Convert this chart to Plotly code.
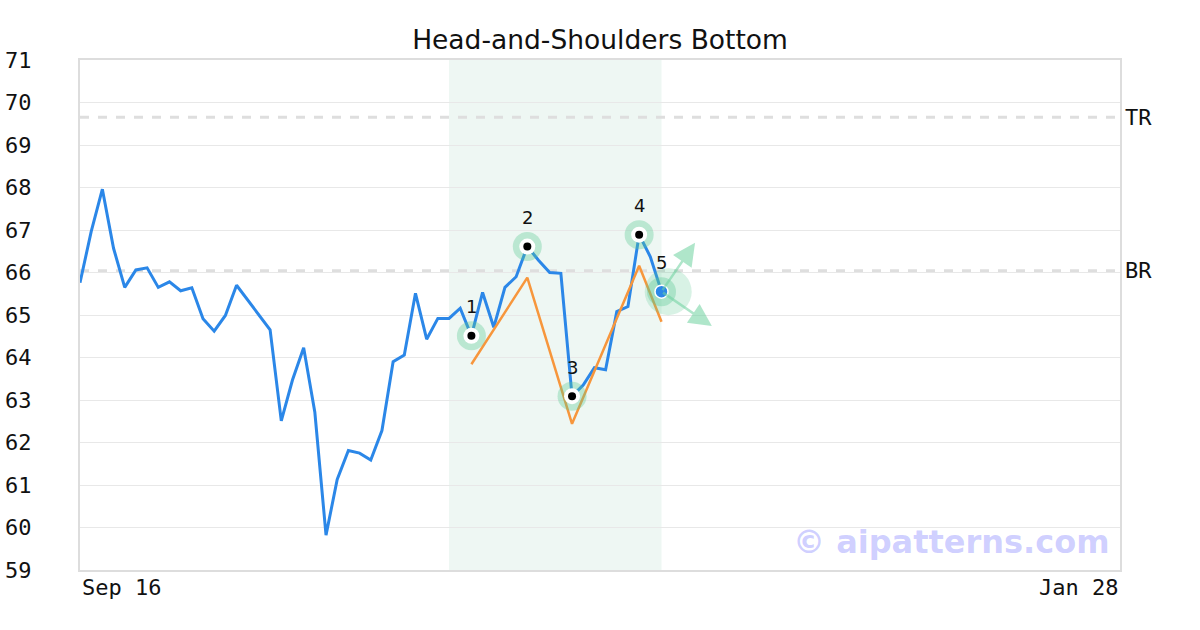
import plotly.graph_objects as go

# ---- data ----
price = [65.76, 66.96, 67.96, 66.57, 65.65, 66.06, 66.11, 65.65, 65.78, 65.57,
         65.64, 64.91, 64.62, 64.99, 65.70, 65.35, 64.98, 64.65, 62.51, 63.47,
         64.23, 62.71, 59.82, 61.13, 61.81, 61.75, 61.59, 62.28, 63.90, 64.06,
         65.51, 64.43, 64.92, 64.92, 65.16, 64.51, 65.53, 64.71, 65.65, 65.90,
         66.61, 66.29, 66.00, 65.98, 63.09, 63.35, 63.76, 63.71, 65.08, 65.20,
         66.89, 66.37, 65.55]
n_total = 94  # trading days from Sep 16 to Jan 28
x_idx = list(range(len(price)))

pivot_idx = [35, 40, 44, 50, 52]
pivot_labels = ["1", "2", "3", "4", "5"]
fit_values = [63.84, 65.88, 62.44, 66.16, 64.84]

pattern_start, pattern_end = 33, 52

level_names = ["TR", "BR"]
level_values = [69.65, 66.04]

arrow_tips_x = [55.0, 56.5]
arrow_tips_y = [66.70, 64.74]

x_tick_labels = ["Sep 16", "Jan 28"]
y_ticks = list(range(59, 72))

title = "Head-and-Shoulders Bottom"
watermark = "© aipatterns.com"

# ---- figure ----
BLUE = "#2b87e8"
ORANGE = "#f7963c"
GREEN_T = "rgba(90,200,145,0.35)"
MONO = "DejaVu Sans Mono"
SANS = "DejaVu Sans"
TICK_SIZE = 22

fig = go.Figure()

fig.add_shape(type="rect", xref="x", yref="paper", x0=pattern_start, x1=pattern_end,
              y0=0, y1=1, fillcolor="#eef7f3", line_width=0, layer="below")

for v in level_values:
    fig.add_shape(type="line", xref="paper", yref="y", x0=0, x1=1, y0=v, y1=v,
                  line=dict(color="#dedede", width=3, dash="dash"), layer="below")

fig.add_trace(go.Scatter(x=x_idx, y=price, mode="lines",
                         line=dict(color=BLUE, width=3), hoverinfo="skip"))
fig.add_trace(go.Scatter(x=pivot_idx, y=fit_values, mode="lines",
                         line=dict(color=ORANGE, width=2.5), hoverinfo="skip"))

piv_y = [price[i] for i in pivot_idx]
# halos
fig.add_trace(go.Scatter(x=[pivot_idx[-1] + 0.6], y=[piv_y[-1]], mode="markers",
                         marker=dict(size=47, color="rgba(90,200,145,0.24)", line_width=0),
                         hoverinfo="skip"))
fig.add_trace(go.Scatter(x=pivot_idx, y=piv_y, mode="markers",
                         marker=dict(size=29, color=GREEN_T, line_width=0), hoverinfo="skip"))
fig.add_trace(go.Scatter(x=pivot_idx[:-1], y=piv_y[:-1], mode="markers",
                         marker=dict(size=16, color="white", line_width=0), hoverinfo="skip"))
fig.add_trace(go.Scatter(x=pivot_idx[:-1], y=piv_y[:-1], mode="markers",
                         marker=dict(size=8, color="black", line_width=0), hoverinfo="skip"))
fig.add_trace(go.Scatter(x=pivot_idx[-1:], y=piv_y[-1:], mode="markers",
                         marker=dict(size=13, color=BLUE, line=dict(color="white", width=1.5)),
                         hoverinfo="skip"))

annotations = []
for i, lab, yv in zip(pivot_idx, pivot_labels, piv_y):
    annotations.append(dict(x=i, y=yv, xref="x", yref="y", text=lab, showarrow=False,
                            yshift=29, font=dict(family=SANS, size=18, color="#111")))
for tx, ty in zip(arrow_tips_x, arrow_tips_y):
    annotations.append(dict(x=tx, y=ty, ax=pivot_idx[-1], ay=piv_y[-1], xref="x", yref="y",
                            axref="x", ayref="y", text="", showarrow=True, arrowhead=2,
                            arrowsize=1.8, arrowwidth=2.5, arrowcolor="rgba(110,210,160,0.55)",
                            standoff=0, startstandoff=0))
for name, v in zip(level_names, level_values):
    annotations.append(dict(x=1, y=v, xref="paper", yref="y", text=name, showarrow=False,
                            xanchor="left", xshift=3, font=dict(family=MONO, size=TICK_SIZE, color="#111")))
annotations.append(dict(x=0, y=0, xref="paper", yref="paper", text=x_tick_labels[0],
                        showarrow=False, xanchor="left", yanchor="top", yshift=-3,
                        font=dict(family=MONO, size=TICK_SIZE, color="#111")))
annotations.append(dict(x=1, y=0, xref="paper", yref="paper", text=x_tick_labels[1],
                        showarrow=False, xanchor="right", yanchor="top", yshift=-3,
                        font=dict(family=MONO, size=TICK_SIZE, color="#111")))
annotations.append(dict(x=0.992, y=59.65, xref="paper", yref="y", text=watermark,
                        showarrow=False, xanchor="right", yanchor="middle",
                        font=dict(family=SANS, size=32, color="rgba(140,140,255,0.42)", weight="bold")))

fig.update_layout(
    width=1200, height=630,
    margin=dict(l=80, r=80, t=60, b=60),
    paper_bgcolor="white", plot_bgcolor="white",
    showlegend=False,
    title=dict(text=title, x=0.5, xanchor="center", y=1 - 40 / 630, yanchor="middle",
               font=dict(family=SANS, size=26.5, color="#111")),
    annotations=annotations,
    xaxis=dict(range=[0, n_total - 1], showgrid=False, zeroline=False, showticklabels=False,
               ticks="", showline=True, mirror=True, linecolor="#dddddd", linewidth=2,
               automargin=False),
    yaxis=dict(range=[59, 71], tickvals=y_ticks, showgrid=True, gridcolor="#e8e8e8",
               gridwidth=1, zeroline=False, ticks="", ticklabelstandoff=42,
               tickfont=dict(family=MONO, size=TICK_SIZE, color="#111"),
               showline=True, mirror=True, linecolor="#dddddd", linewidth=2,
               automargin=False),
)

fig.write_html("out.html", config={"displayModeBar": False},
               post_script="document.body.style.margin='0';")
